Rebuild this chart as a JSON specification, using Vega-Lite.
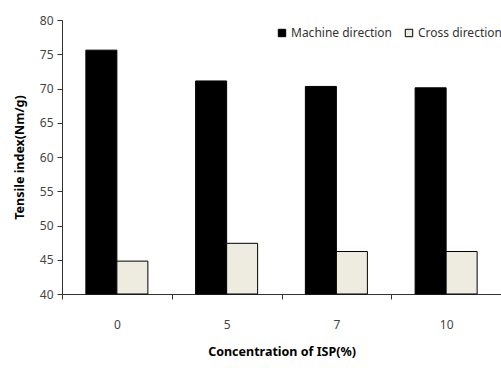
{
  "$schema": "https://vega.github.io/schema/vega-lite/v6.json",
  "width": 439,
  "height": 274,
  "autosize": "none",
  "padding": {"left": 62, "top": 20, "right": 0, "bottom": 74},
  "background": "white",
  "config": {
    "view": {"stroke": null},
    "font": "Noto Sans"
  },
  "data": {
    "values": [
      {"conc": "0", "dir": "Machine direction", "value": 75.6},
      {"conc": "0", "dir": "Cross direction", "value": 44.8},
      {"conc": "5", "dir": "Machine direction", "value": 71.1},
      {"conc": "5", "dir": "Cross direction", "value": 47.4},
      {"conc": "7", "dir": "Machine direction", "value": 70.3},
      {"conc": "7", "dir": "Cross direction", "value": 46.2},
      {"conc": "10", "dir": "Machine direction", "value": 70.1},
      {"conc": "10", "dir": "Cross direction", "value": 46.2}
    ]
  },
  "mark": {"type": "bar", "stroke": "black", "strokeWidth": 1},
  "encoding": {
    "x": {
      "field": "conc",
      "type": "nominal",
      "sort": ["0", "5", "7", "10"],
      "scale": {"paddingInner": 0, "paddingOuter": 0},
      "axis": {
        "title": "Concentration of ISP(%)",
        "titleFontSize": 12.5,
        "titleFontWeight": "bold",
        "titleColor": "black",
        "titlePadding": 15,
        "labelAngle": 0,
        "labelFontSize": 12,
        "labelColor": "#444444",
        "labelPadding": 20,
        "tickBand": "extent",
        "tickSize": 5,
        "tickColor": "#333333",
        "domainColor": "#333333"
      }
    },
    "xOffset": {
      "field": "dir",
      "type": "nominal",
      "sort": ["Machine direction", "Cross direction"],
      "scale": {"paddingInner": 0, "paddingOuter": 0.77}
    },
    "y": {
      "field": "value",
      "type": "quantitative",
      "scale": {"domain": [40, 80], "nice": false, "zero": false},
      "axis": {
        "title": "Tensile index(Nm/g)",
        "titleFontSize": 12.5,
        "titleFontWeight": "bold",
        "titleColor": "black",
        "titlePadding": 13,
        "values": [40, 45, 50, 55, 60, 65, 70, 75, 80],
        "grid": false,
        "labelFontSize": 12,
        "labelColor": "#444444",
        "labelPadding": 4,
        "tickSize": 5,
        "tickColor": "#333333",
        "domainColor": "#333333"
      }
    },
    "y2": {"datum": 40},
    "fill": {
      "field": "dir",
      "type": "nominal",
      "sort": ["Machine direction", "Cross direction"],
      "scale": {"range": ["black", "#EEECE1"]},
      "legend": {
        "title": null,
        "orient": "none",
        "direction": "horizontal",
        "legendX": 214,
        "legendY": 7,
        "symbolType": "square",
        "symbolSize": 55,
        "symbolStrokeColor": "black",
        "symbolStrokeWidth": 1,
        "labelFontSize": 12,
        "labelColor": "#333333",
        "labelOffset": 3,
        "columnPadding": 10
      }
    }
  }
}
